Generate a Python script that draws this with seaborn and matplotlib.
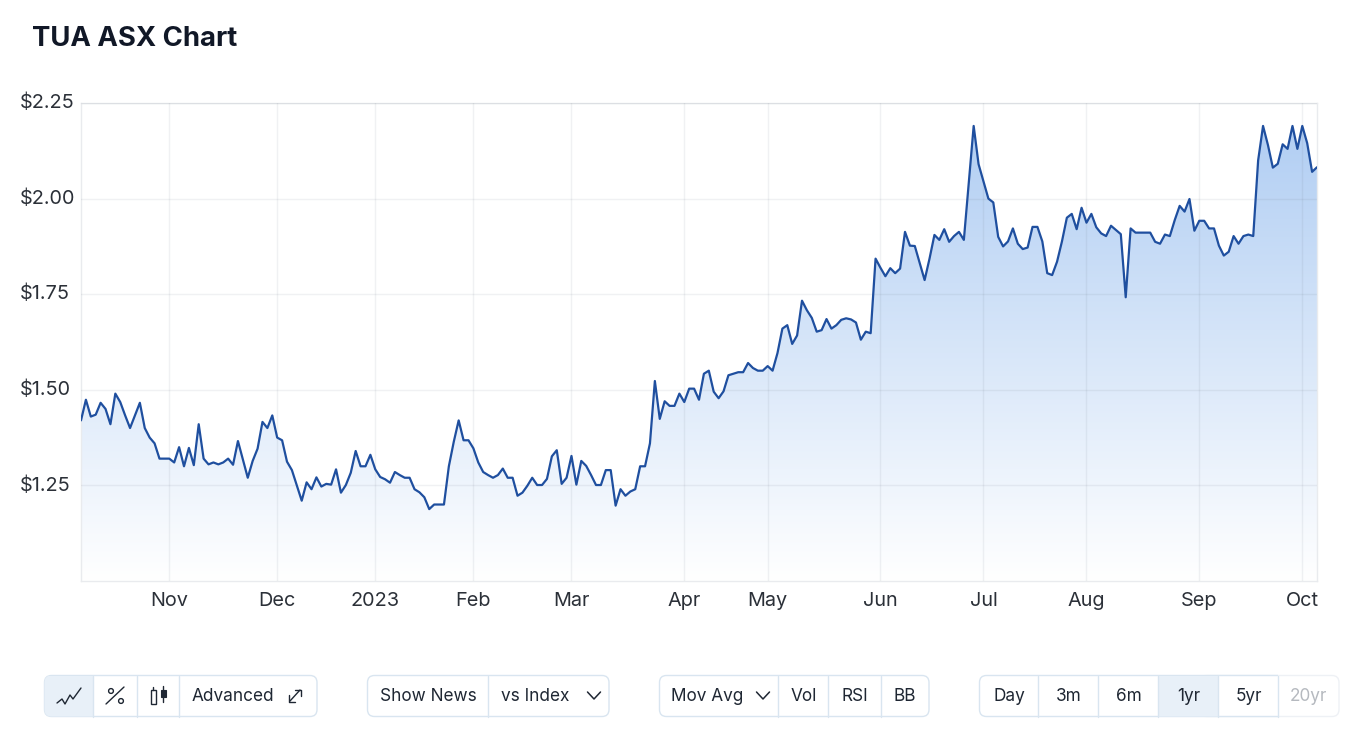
import numpy as np
import pandas as pd
import matplotlib
matplotlib.use('Agg')
import matplotlib.pyplot as plt
import matplotlib.transforms as mtransforms
import seaborn as sns
from matplotlib.colors import LinearSegmentedColormap
from matplotlib.patches import FancyBboxPatch, PathPatch, Rectangle, Circle

# closing prices, one per trading day
precos_2022 = [
    1.42, 1.474, 1.43, 1.435, 1.466, 1.45, 1.41, 1.49, 1.468, 1.433, 1.40, 1.433, 1.466, 1.40, 1.375, 1.36,
    1.32, 1.32, 1.32, 1.31, 1.35, 1.30, 1.348, 1.303, 1.41, 1.32, 1.305, 1.31, 1.305, 1.31, 1.32, 1.304,
    1.366, 1.318, 1.27, 1.314, 1.346, 1.416, 1.40, 1.433, 1.375, 1.368, 1.312, 1.29, 1.25, 1.21, 1.258, 1.24,
    1.271, 1.247, 1.254, 1.252, 1.292, 1.231, 1.251, 1.283, 1.34, 1.30, 1.30, 1.33,
]
precos_inicio_2023 = [
    1.292, 1.272, 1.266, 1.257, 1.285, 1.277, 1.27, 1.27, 1.24, 1.232, 1.219, 1.188, 1.20, 1.20, 1.20, 1.30,
    1.364, 1.42, 1.368, 1.368, 1.347, 1.31, 1.285, 1.277, 1.27, 1.277, 1.294, 1.27, 1.27, 1.223, 1.231, 1.249,
    1.27, 1.251, 1.251, 1.267, 1.326, 1.342, 1.254, 1.27, 1.327, 1.252, 1.314, 1.301, 1.277, 1.251, 1.251, 1.29,
    1.29, 1.197, 1.24, 1.223, 1.234, 1.24, 1.30, 1.30, 1.36, 1.523, 1.424, 1.47, 1.458, 1.458,
]
precos_meio_2023 = [
    1.49, 1.468, 1.503, 1.503, 1.474, 1.542, 1.55, 1.495, 1.478, 1.496, 1.538, 1.542, 1.546, 1.546, 1.57, 1.557,
    1.55, 1.55, 1.562, 1.55, 1.596, 1.66, 1.669, 1.62, 1.642, 1.733, 1.708, 1.688, 1.652, 1.656, 1.685, 1.66,
    1.669, 1.683, 1.687, 1.684, 1.676, 1.631, 1.652, 1.648, 1.843, 1.819, 1.797, 1.818, 1.805, 1.817, 1.913, 1.877,
    1.876, 1.832, 1.787, 1.843, 1.905, 1.892, 1.92, 1.887, 1.902, 1.913, 1.892, 2.04, 2.19, 2.09, 2.045, 2.0,
    1.99, 1.90,
]
precos_fim_2023 = [
    1.875, 1.888, 1.922, 1.882, 1.868, 1.872, 1.926, 1.926, 1.888, 1.805, 1.80, 1.835, 1.888, 1.95, 1.96, 1.92,
    1.976, 1.937, 1.96, 1.925, 1.909, 1.902, 1.929, 1.918, 1.907, 1.742, 1.922, 1.911, 1.911, 1.911, 1.911, 1.887,
    1.882, 1.906, 1.902, 1.944, 1.981, 1.966, 1.999, 1.916, 1.942, 1.942, 1.922, 1.922, 1.877, 1.851, 1.861, 1.902,
    1.882, 1.902, 1.906, 1.902, 2.10, 2.19, 2.14, 2.081, 2.091, 2.142, 2.13, 2.19, 2.13, 2.19, 2.145, 2.07, 2.082,
]
precos = precos_2022 + precos_inicio_2023 + precos_meio_2023 + precos_fim_2023

# the x axis counts trading days, so the months are not evenly spaced
meses = ['Nov', 'Dec', '2023', 'Feb', 'Mar', 'Apr', 'May', 'Jun', 'Jul', 'Aug', 'Sep', 'Oct']
dias_meses = [18, 40, 60, 80, 100, 123, 140, 163, 184, 205, 228, 249]
valores_y = [1.25, 1.50, 1.75, 2.00, 2.25]
rotulos_y = ['$1.25', '$1.50', '$1.75', '$2.00', '$2.25']

df = pd.DataFrame({'dia': np.arange(len(precos)), 'preco': precos})

sns.set_theme(style='white')
plt.rcParams['font.family'] = ['Inter', 'DejaVu Sans']

LARGURA, ALTURA = 1358, 734
COR_LINHA = '#1f4f9f'
COR_TEXTO = '#1f2733'
COR_BORDA = '#d9e5f0'
COR_ATIVO = '#e8f0f8'

fig = plt.figure(figsize=(LARGURA / 100, ALTURA / 100), dpi=100, facecolor='white')
ax = fig.add_axes([81 / LARGURA, 1 - 581 / ALTURA, (1317 - 81) / LARGURA, (581 - 103) / ALTURA])

# area with a vertical fade, clipped to the shape under the line
area = ax.fill_between(df['dia'], df['preco'], 1.0, color='none')
degrade = LinearSegmentedColormap.from_list('degrade', ['#ffffff', '#b1cef3'])
imagem = ax.imshow(np.linspace(1, 0, 256).reshape(-1, 1), cmap=degrade, aspect='auto', zorder=1,
                   extent=(0, len(precos) - 1, 1.0, max(precos)))
molde = PathPatch(area.get_paths()[0], transform=ax.transData, facecolor='none', edgecolor='none')
ax.add_patch(molde)
imagem.set_clip_path(molde)

sns.lineplot(data=df, x='dia', y='preco', ax=ax, color=COR_LINHA, linewidth=1.6, zorder=3, errorbar=None)

ax.set_xlim(0, len(precos) - 1)
ax.set_ylim(1.0, 2.25)
ax.set_xticks(dias_meses)
ax.set_xticklabels(meses)
ax.set_yticks(valores_y)
ax.set_yticklabels(rotulos_y)
ax.set_xlabel('')
ax.set_ylabel('')
ax.tick_params(axis='both', length=0, labelsize=14.3, labelcolor='#2b3038')
ax.tick_params(axis='x', pad=8)
ax.tick_params(axis='y', pad=44)
# y labels start at the same x and sit a little above their grid lines
acima = mtransforms.ScaledTranslation(0, 1.5 / 72, fig.dpi_scale_trans)
for rotulo_y in ax.get_yticklabels():
    rotulo_y.set_ha('left')
    rotulo_y.set_transform(rotulo_y.get_transform() + acima)
ax.grid(True, color='#5f6b7a', alpha=0.09, linewidth=1.0, zorder=2)
ax.set_axisbelow(False)
for lado in ax.spines.values():
    lado.set_color('#e9ebee')
    lado.set_linewidth(1.0)

# overlay in pixel coordinates for the title and the buttons below the chart
ui = fig.add_axes([0, 0, 1, 1], facecolor='none')
ui.set_xlim(0, LARGURA)
ui.set_ylim(ALTURA, 0)
ui.axis('off')

ui.text(32, 38.5, 'TUA ASX Chart', fontsize=19.8, fontweight='bold', color='#111827', va='center', ha='left')


def grupo(x0, x1, divisores, ativo=None, y0=675.5, y1=716.5, corte=None):
    caixa = FancyBboxPatch((x0, y0), x1 - x0, y1 - y0, boxstyle='round,pad=0,rounding_size=7',
                           facecolor='white', edgecolor=COR_BORDA, linewidth=1.0, zorder=1)
    ui.add_patch(caixa)
    if corte is not None:
        caixa.set_clip_path(Rectangle((x0 - 2, y0 - 2), corte - x0 + 2, y1 - y0 + 4, transform=ui.transData))
    if ativo is not None:
        fundo = Rectangle((ativo[0], y0), ativo[1] - ativo[0], y1 - y0, facecolor=COR_ATIVO, edgecolor='none', zorder=1.5)
        ui.add_patch(fundo)
        fundo.set_clip_path(caixa)
    for d in divisores:
        ui.plot([d, d], [y0, y1], color=COR_BORDA, linewidth=1.0, zorder=2)


def rotulo(x, texto, cor=COR_TEXTO):
    ui.text(x, 701, texto, fontsize=12.4, color=cor, ha='center', va='baseline', zorder=3)


def seta(x, y=695.5):
    ui.plot([x - 6.5, x, x + 6.5], [y - 3.5, y + 3.5, y - 3.5], color=COR_TEXTO, linewidth=1.1, zorder=3)


grupo(44.5, 317, [93, 137, 179], ativo=(44, 93))
grupo(367.5, 609, [488])
grupo(659.5, 929, [778, 828, 881])
# the disabled 20yr button has a paler border, the rest of the group stops at its divider
ui.add_patch(FancyBboxPatch((1200, 675.5), 139, 41, boxstyle='round,pad=0,rounding_size=7',
                            facecolor='white', edgecolor='#eef1f5', linewidth=1.0, zorder=0.5))
grupo(979.5, 1339, [1038, 1098, 1158, 1218, 1278], ativo=(1158, 1218), corte=1278)

# chart type icons
ui.plot([57, 62, 65, 70, 73, 81], [703, 699, 704, 695, 699, 688], color=COR_TEXTO, linewidth=1.0, zorder=3)
ui.plot([106, 124], [704, 687], color=COR_TEXTO, linewidth=1.0, zorder=3)
ui.add_patch(Circle((111, 691), 2.4, facecolor='none', edgecolor=COR_TEXTO, linewidth=1.0, zorder=3))
ui.add_patch(Circle((121, 701), 2.4, facecolor='none', edgecolor=COR_TEXTO, linewidth=1.0, zorder=3))
ui.add_patch(Rectangle((151, 690), 4.5, 14, facecolor='none', edgecolor=COR_TEXTO, linewidth=1.0, zorder=3))
ui.plot([153.2, 153.2], [687, 690], color=COR_TEXTO, linewidth=1.0, zorder=3)
ui.add_patch(Rectangle((160.5, 690), 5, 7, facecolor=COR_TEXTO, edgecolor=COR_TEXTO, linewidth=0.8, zorder=3))
ui.plot([163, 163], [686, 702], color=COR_TEXTO, linewidth=1.0, zorder=3)
# expand icon
ui.plot([290, 300], [701, 690], color=COR_TEXTO, linewidth=1.0, zorder=3)
ui.plot([295, 301, 301], [690, 690, 696], color=COR_TEXTO, linewidth=1.0, zorder=3)
ui.plot([289, 289, 295], [695, 702, 702], color=COR_TEXTO, linewidth=1.0, zorder=3)

rotulo(233, 'Advanced')
rotulo(428, 'Show News')
rotulo(535, 'vs Index')
seta(594)
rotulo(707, 'Mov Avg')
seta(763)
rotulo(804, 'Vol')
rotulo(855, 'RSI')
rotulo(905, 'BB')
rotulo(1009, 'Day')
rotulo(1069, '3m')
rotulo(1129, '6m')
rotulo(1189, '1yr')
rotulo(1249, '5yr')
rotulo(1308, '20yr', cor='#b5b9bf')

fig.savefig('out.png', dpi=100)
